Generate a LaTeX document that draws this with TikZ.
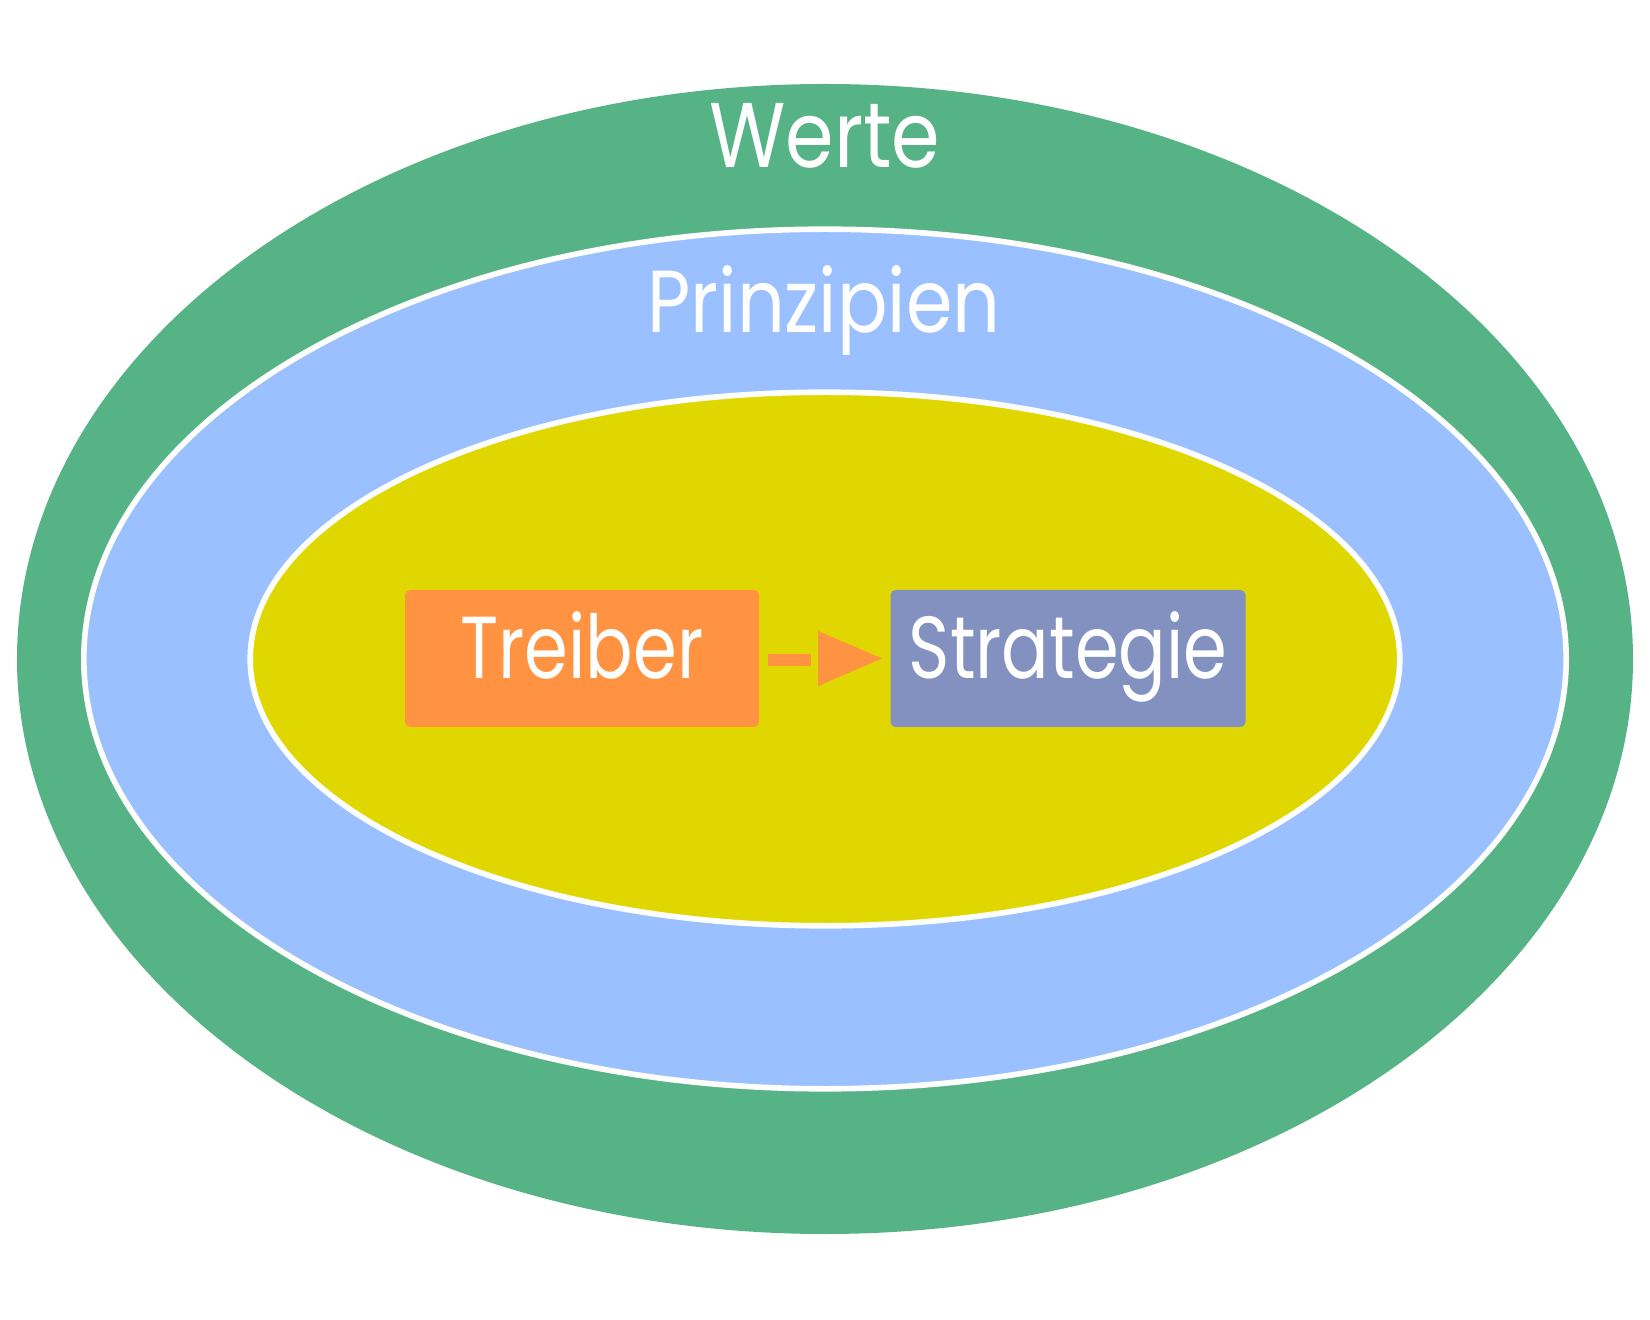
\documentclass[tikz,border=0pt]{standalone}
\usepackage{fontspec}
\setmainfont[FakeStretch=0.85]{Poppins}
\newfontfamily\boxfont[FakeStretch=0.8]{Poppins}
\usetikzlibrary{calc}
\definecolor{werteGreen}{RGB}{86,179,133}
\definecolor{prinzBlue}{RGB}{154,192,255}
\definecolor{coreYellow}{RGB}{224,215,0}
\definecolor{treibOrange}{RGB}{255,147,66}
\definecolor{stratSlate}{RGB}{131,145,192}
\begin{document}
\begin{tikzpicture}[x=0.5pt,y=-0.5pt,
  ring/.style={draw=white, line width=2.8pt},
  box/.style={rounded corners=2.5pt, minimum height=68.5pt, inner sep=0pt,
    text=white, text height=31pt, text depth=10.5pt,
    font=\boxfont\fontsize{44}{53}\selectfont},
  lbl/.style={text=white, anchor=base, inner sep=0pt},
  shaft/.style={draw=treibOrange, line width=5.8pt}]
\useasboundingbox (0,0) rectangle (1650,1320);
\fill[werteGreen] (825,659) ellipse [x radius=404pt, y radius=287.5pt];
\path[ring, fill=prinzBlue] (825,659) ellipse [x radius=370.6pt, y radius=214.9pt];
\path[ring, fill=coreYellow] (825,659) ellipse [x radius=287.4pt, y radius=133.4pt];
\node[lbl, font=\fontsize{46}{55}\selectfont] (werte) at (825,168) {Werte};
\node[lbl, font=\fontsize{44}{53}\selectfont] (prinz) at (824,332.5) {Prinzipien};
\node[box, fill=treibOrange, minimum width=177pt] (treiber) at (582,658.5) {Treiber};
\node[box, fill=stratSlate, minimum width=177.5pt] (strategie) at (1068,658.5) {Strategie};
\draw[shaft] ([xshift=4.25pt,yshift=-0.75pt]treiber.east) -- ([xshift=-39.5pt,yshift=-0.75pt]strategie.west);
\fill[treibOrange] ([xshift=-36pt,yshift=13.75pt]strategie.west) -- ([xshift=-4pt]strategie.west) -- ([xshift=-36pt,yshift=-13.75pt]strategie.west) -- cycle;
\end{tikzpicture}
\end{document}
